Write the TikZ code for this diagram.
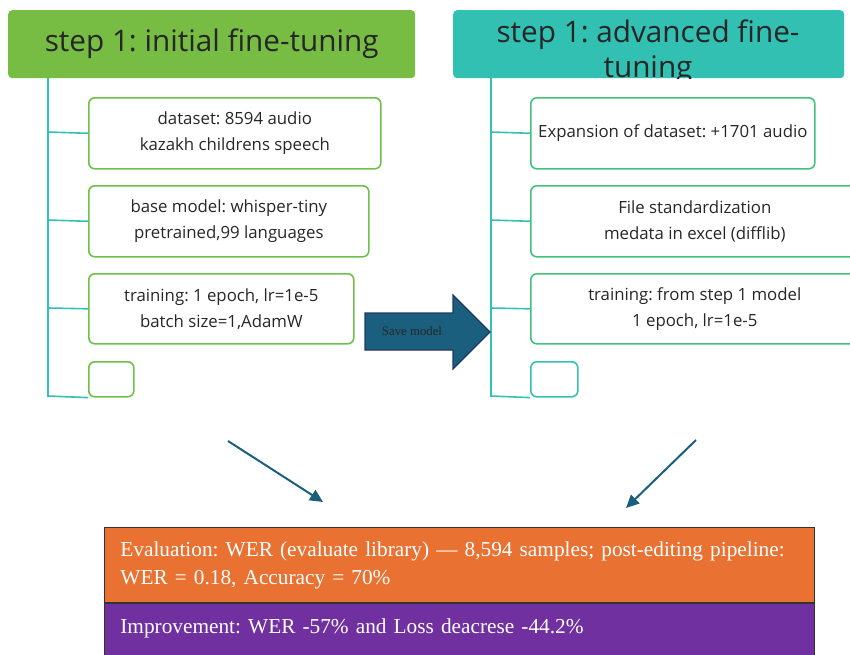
\documentclass[tikz,border=0pt]{standalone}
\usepackage{fontspec}
\setmainfont{Liberation Serif}
\newfontfamily\boxfont{Open Sans}
\usetikzlibrary{arrows.meta, positioning}
\definecolor{hdrgreen}{HTML}{77BD43}
\definecolor{hdrteal}{HTML}{31C0B2}
\definecolor{leafgreen}{HTML}{6DC14A}
\definecolor{leafmint}{HTML}{40C27C}
\definecolor{treeteal}{HTML}{34C1B4}
\definecolor{savefill}{HTML}{1B5F7F}
\definecolor{saveline}{HTML}{1F3864}
\definecolor{evalorange}{HTML}{E97132}
\definecolor{imppurple}{HTML}{7030A0}
\definecolor{textgray}{HTML}{262626}
\tikzstyle{header} = [rectangle, rounded corners=4pt, anchor=north west, inner sep=0pt]
\tikzstyle{leaf} = [rectangle, rounded corners=6pt, anchor=north west, line width=1.6pt, text=textgray, align=center, font=\boxfont\fontsize{16.8}{26}\selectfont]
\tikzstyle{tree} = [treeteal, line width=1.6pt]
\tikzstyle{result} = [rectangle, anchor=north west, draw=black!80, line width=0.8pt, text=white, align=left, inner xsep=16pt, font=\fontsize{21.3}{28}\selectfont, text width=678pt]
\tikzstyle{arrow} = [line width=2pt, draw=savefill, -{Triangle[length=13pt,width=12pt]}]

\begin{document}
\frenchspacing
\begin{tikzpicture}[x=1pt, y=-1pt]
\clip (0,0) rectangle (850,654);
\useasboundingbox (0,0) rectangle (850,654);

\node (hdr1) [header, fill=hdrgreen, minimum width=407pt, minimum height=68pt, text=textgray, font=\boxfont\fontsize{29.7}{30}\selectfont] at (8,10) {step 1: initial fine-tuning};
\node (hdr2) [header, fill=hdrteal, minimum width=391pt, minimum height=68pt] at (453,10) {};
\begin{scope}
\clip (453,10) rectangle (844,78);
\node (hdr2txt) [text=textgray, align=center, font=\boxfont\fontsize{29.7}{35}\selectfont] at (648,52) {step 1: advanced fine-\\tuning};
\end{scope}

\node (d1) [leaf, draw=leafgreen, minimum width=292pt, minimum height=71pt] at (88,97) {dataset: 8594 audio\\kazakh childrens speech};
\node (d2) [leaf, draw=leafgreen, minimum width=280pt, minimum height=71pt] at (88,185) {base model: whisper-tiny\\pretrained,99 languages};
\node (d3) [leaf, draw=leafgreen, minimum width=265pt, minimum height=70pt] at (88,273) {training: 1 epoch, lr=1e-5\\batch size=1,AdamW};
\node (d4) [leaf, draw=leafgreen, minimum width=45pt, minimum height=35pt] at (88,361) {};

\node (a1) [leaf, draw=leafmint, minimum width=284pt, minimum height=71pt] at (530,97) {Expansion of dataset: +1701 audio};
\node (a2) [leaf, draw=leafmint, minimum width=328pt, minimum height=71pt] at (530,185) {File standardization\\medata in excel (difflib)};
\node (a3) [leaf, draw=leafmint, minimum width=328pt, minimum height=70pt] at (530,273) {training: from step 1 model\\1 epoch, lr=1e-5};
\node (a4) [leaf, draw=treeteal, minimum width=47pt, minimum height=35pt] at (530,361) {};

\coordinate (t1) at (48,78);
\coordinate (t2) at (491,78);
\draw [tree] (t1) -- (48,396) -- (d4.south west);
\draw [tree] (48,132) -- (d1.west);
\draw [tree] (48,220) -- (d2.west);
\draw [tree] (48,308) -- (d3.west);
\draw [tree] (t2) -- (491,396) -- (a4.south west);
\draw [tree] (491,132) -- (a1.west);
\draw [tree] (491,220) -- (a2.west);
\draw [tree] (491,308) -- (a3.west);

\filldraw [fill=savefill, draw=saveline, line width=1.2pt] (365,313) -- (453,313) -- (453,295) -- (490,332) -- (453,369) -- (453,350) -- (365,350) -- cycle;
\node (save) [text=textgray, font=\fontsize{12.8}{14}\selectfont] at (412,331) {Save model};

\node (eval) [result, fill=evalorange, minimum height=75pt] at (104,527) {Evaluation: WER (evaluate library) --- 8,594 samples; post-editing pipeline:\\WER = 0.18, Accuracy = 70\%};
\node (impr) [result, fill=imppurple, text height=14pt, text depth=25pt, inner ysep=16pt, below=0pt of eval.south west, anchor=north west] {Improvement: WER -57\% and Loss deacrese -44.2\%};

\coordinate (s1) at (228,441);
\coordinate (s2) at (696,440);
\coordinate (e1) at (323,502);
\coordinate (e2) at (626,508);
\draw [arrow] (s1) -- (e1);
\draw [arrow] (s2) -- (e2);
\end{tikzpicture}
\end{document}
